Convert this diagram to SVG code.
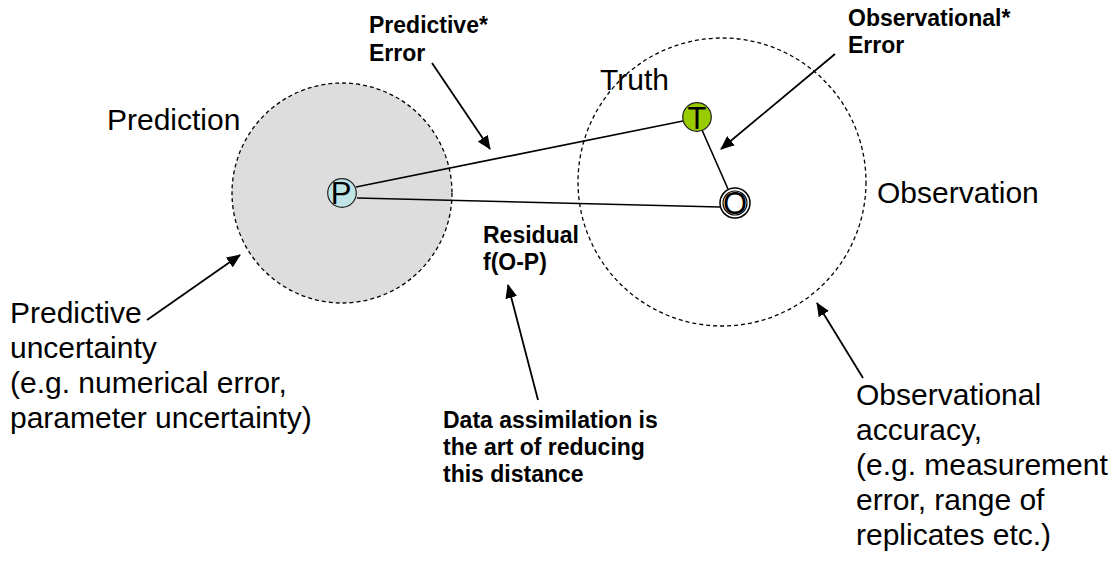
<svg xmlns="http://www.w3.org/2000/svg" width="1120" height="561" viewBox="0 0 1120 561">
<defs>
<marker id="ah" markerUnits="userSpaceOnUse" markerWidth="14" markerHeight="12" refX="13" refY="6" orient="auto">
<path d="M0,0 L14,6 L0,12 Z" fill="#000"/>
</marker>
<style>
.reg{font-family:"Liberation Sans",Arial,sans-serif;font-size:30px;fill:#000}
.bold{font-family:"Liberation Sans",Arial,sans-serif;font-size:23px;font-weight:bold;fill:#000}
.region{stroke:#000;stroke-width:1.3;stroke-dasharray:4 3}
.link{stroke:#000;stroke-width:1.6;fill:none}
.arrow{stroke:#000;stroke-width:1.8;fill:none;marker-end:url(#ah)}
.node{stroke:#222;stroke-width:1.2}
.nlabel{font-family:"Liberation Sans",Arial,sans-serif;font-size:31px;fill:#000;text-anchor:middle}
</style>
</defs>
<rect width="1120" height="561" fill="#fff"/>
<g id="prediction-region">
<circle class="region" cx="342" cy="193" r="110" fill="#dddddd"/>
<text class="reg" x="107" y="130">Prediction</text>
</g>
<g id="observation-region">
<circle class="region" cx="722" cy="182" r="144" fill="none"/>
<text class="reg" x="877" y="203">Observation</text>
</g>
<g id="connectors">
<line class="link" x1="356" y1="187" x2="683" y2="121"/>
<line class="link" x1="357" y1="198" x2="720" y2="207"/>
<line class="link" x1="702" y1="130" x2="728" y2="189"/>
<line class="arrow" x1="432" y1="63" x2="490" y2="149"/>
<line class="arrow" x1="835" y1="54" x2="721" y2="149"/>
<line class="arrow" x1="147" y1="320" x2="240" y2="255"/>
<line class="arrow" x1="863" y1="378" x2="817" y2="303"/>
<line class="arrow" x1="538" y1="400" x2="508" y2="285"/>
</g>
<g id="node-P">
<circle class="node" cx="342" cy="193" r="14.3" fill="#bfe4e6"/>
<text class="nlabel" x="341" y="204">P</text>
</g>
<g id="node-T">
<circle class="node" cx="697" cy="117" r="14.3" fill="#99cc00"/>
<text class="nlabel" x="697" y="129">T</text>
</g>
<g id="node-O">
<circle cx="735" cy="203" r="15" fill="#fff" stroke="#000" stroke-width="1.5"/>
<circle cx="735" cy="203" r="12" fill="#fff" stroke="#000" stroke-width="1.2"/>
<text class="nlabel" x="735" y="214">O</text>
</g>
<g id="truth-label">
<text class="reg" x="600" y="90">Truth</text>
</g>
<g id="predictive-error-label">
<text class="bold" x="369" y="33">Predictive*</text>
<text class="bold" x="369" y="61">Error</text>
</g>
<g id="observational-error-label">
<text class="bold" x="848" y="26">Observational*</text>
<text class="bold" x="848" y="53">Error</text>
</g>
<g id="residual-label">
<text class="bold" x="483" y="243">Residual</text>
<text class="bold" x="483" y="270">f(O-P)</text>
</g>
<g id="data-assimilation-label">
<text class="bold" x="443" y="428">Data assimilation is</text>
<text class="bold" x="443" y="455">the art of reducing</text>
<text class="bold" x="443" y="482">this distance</text>
</g>
<g id="predictive-uncertainty-label">
<text class="reg" x="10" y="323">Predictive</text>
<text class="reg" x="10" y="358">uncertainty</text>
<text class="reg" x="10" y="393">(e.g. numerical error,</text>
<text class="reg" x="10" y="428">parameter uncertainty)</text>
</g>
<g id="observational-accuracy-label">
<text class="reg" x="856" y="405">Observational</text>
<text class="reg" x="856" y="440">accuracy,</text>
<text class="reg" x="856" y="475">(e.g. measurement</text>
<text class="reg" x="856" y="510">error, range of</text>
<text class="reg" x="856" y="545">replicates etc.)</text>
</g>
</svg>
